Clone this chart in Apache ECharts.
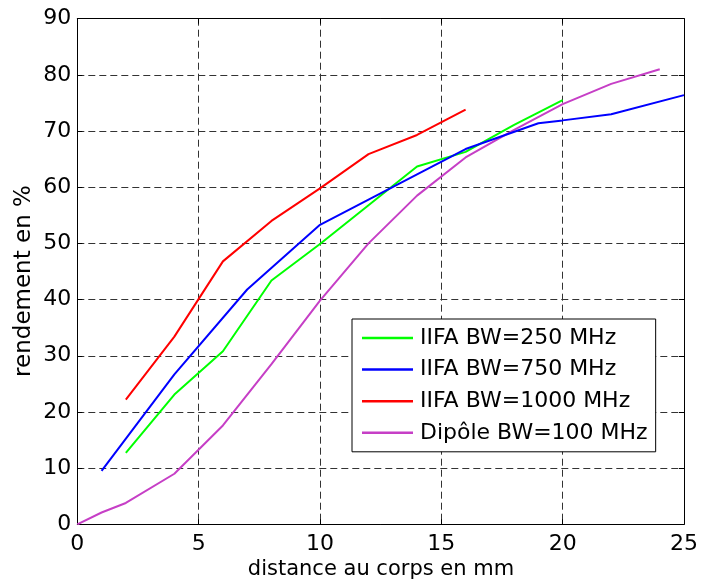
<!DOCTYPE html>
<html><head><meta charset="utf-8">
<script src="https://cdn.jsdelivr.net/npm/echarts@6/dist/echarts.min.js"></script>
<style>html,body{margin:0;padding:0;background:#fff}#c{width:701px;height:584px}</style>
</head><body><div id="c"></div>
<script>
const xTicks = [0, 5, 10, 15, 20, 25];
const yTicks = [0, 10, 20, 30, 40, 50, 60, 70, 80, 90];
const seriesNames = ['IIFA BW=250 MHz', 'IIFA BW=750 MHz', 'IIFA BW=1000 MHz', 'Dipôle BW=100 MHz'];
const greenX = [2, 4, 6, 8, 10, 12, 14, 16, 18, 20];
const greenY = [12.7, 23.1, 30.8, 43.4, 49.9, 56.8, 63.7, 66.3, 71.1, 75.5];
const blueX = [1, 4, 7, 10, 16, 19, 20, 22, 25];
const blueY = [9.5, 26.7, 41.8, 53.3, 66.8, 71.4, 71.9, 73.0, 76.4];
const redX = [2, 4, 6, 8, 10, 12, 14, 16];
const redY = [22.2, 33.4, 46.8, 54.0, 59.8, 65.9, 69.3, 73.8];
const dipX = [0, 1, 2, 4, 6, 8, 10, 12, 14, 16, 18, 20, 22, 24];
const dipY = [0, 2.1, 3.8, 9.0, 17.6, 28.5, 39.8, 50.0, 58.5, 65.3, 70.2, 74.8, 78.4, 81.0];
const xName = 'distance au corps en mm';
const yName = 'rendement en %';

const FONT = 'DejaVu Sans';
const colors = ['#00ff00', '#0000ff', '#ff0000', '#c63fc6'];
const zip = (xs, ys) => xs.map((x, i) => [x, ys[i]]);
const grid = {left: 77.3, right: 12.7, top: 18.7, bottom: 59.7};
const gridLine = {show: true, lineStyle: {color: '#333', width: 1, type: [7, 4]}};
const axisLineS = {show: true, onZero: false, lineStyle: {color: '#000', width: 1}};
const tick = {show: true, inside: true, length: 5, lineStyle: {color: '#000'}};

const chart = echarts.init(document.getElementById('c'), null, {renderer: 'canvas'});
chart.setOption({
  animation: false,
  backgroundColor: '#fff',
  grid: grid,
  xAxis: [
    {type: 'value', min: 0, max: 25, interval: 5, position: 'bottom',
     axisLine: axisLineS, axisTick: tick, splitLine: gridLine,
     axisLabel: {color: '#000', fontFamily: FONT, fontSize: 22, margin: 9,
       formatter: v => xTicks.includes(v) ? String(v) : ''}},
    {type: 'value', min: 0, max: 25, interval: 5, position: 'top',
     axisLine: axisLineS, axisTick: tick, splitLine: {show: false}, axisLabel: {show: false}}
  ],
  yAxis: [
    {type: 'value', min: 0, max: 90, interval: 10, position: 'left',
     axisLine: axisLineS, axisTick: tick, splitLine: gridLine,
     axisLabel: {color: '#000', fontFamily: FONT, fontSize: 22, margin: 6,
       formatter: v => yTicks.includes(v) ? String(v) : ''}},
    {type: 'value', min: 0, max: 90, interval: 10, position: 'right',
     axisLine: axisLineS, axisTick: tick, splitLine: {show: false}, axisLabel: {show: false}}
  ],
  legend: {
    orient: 'vertical', left: 352, top: 319,
    backgroundColor: '#fff', borderColor: '#000', borderWidth: 1, borderRadius: 0,
    padding: [8, 8, 8, 10], itemWidth: 51, itemHeight: 2.5, itemGap: 9.6,
    textStyle: {color: '#000', fontFamily: FONT, fontSize: 22, lineHeight: 22, padding: [0, 0, 0, 2]},
    data: seriesNames.map((n, i) => ({name: n, icon: 'rect', itemStyle: {color: colors[i]}}))
  },
  series: [
    {name: seriesNames[0], data: zip(greenX, greenY)},
    {name: seriesNames[1], data: zip(blueX, blueY)},
    {name: seriesNames[2], data: zip(redX, redY)},
    {name: seriesNames[3], data: zip(dipX, dipY)}
  ].map((s, i) => Object.assign(s, {type: 'line', symbol: 'none', color: colors[i],
      lineStyle: {color: colors[i], width: 2}, z: 3 + (i === 3 ? 0 : 1)})),
  graphic: [
    {type: 'text', x: 381, y: 570, style: {text: xName, fontFamily: FONT, fontSize: 21,
      fill: '#000', textAlign: 'center', textVerticalAlign: 'middle'}},
    {type: 'text', x: 24, y: 281, rotation: Math.PI / 2, style: {text: yName, fontFamily: FONT, fontSize: 23,
      fill: '#000', textAlign: 'center', textVerticalAlign: 'middle'}}
  ]
});
</script></body></html>
